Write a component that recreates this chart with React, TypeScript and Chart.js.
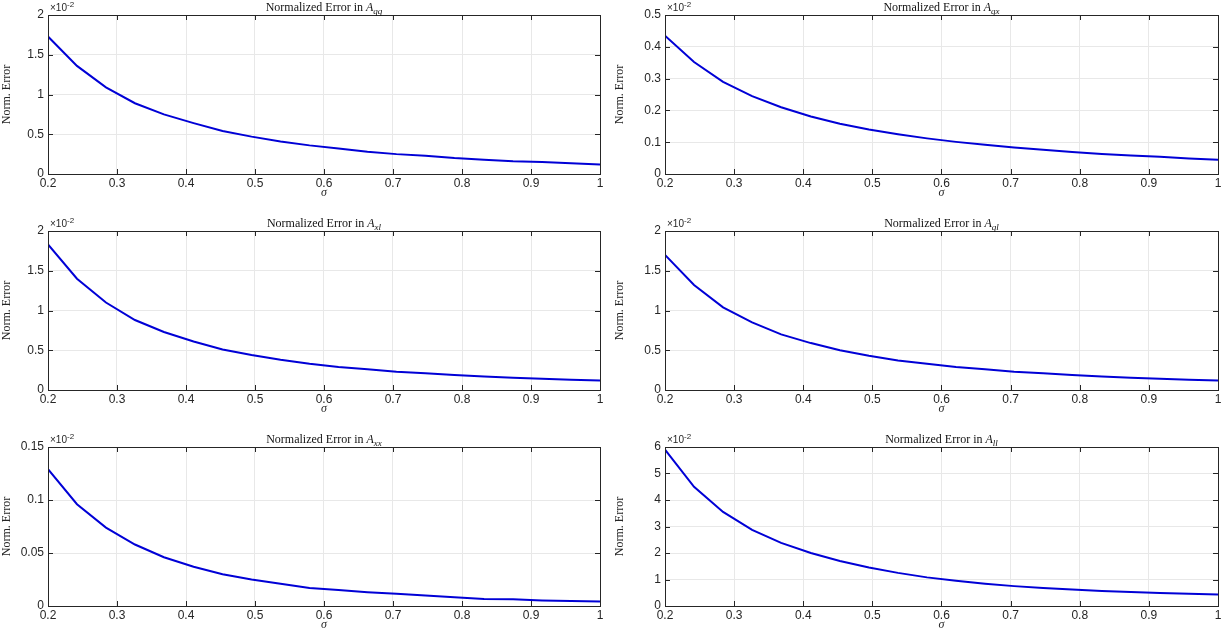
import React, { useEffect, useRef } from "react";
import { Chart, registerables } from "chart.js";
Chart.register(...registerables);

const sigma = [0.2, 0.242, 0.284, 0.326, 0.368, 0.411, 0.453, 0.495, 0.537, 0.579, 0.621, 0.663, 0.705, 0.747, 0.789, 0.832, 0.874, 0.916, 0.958, 1.0];
const errQQ = [1.73, 1.36, 1.09, 0.89, 0.75, 0.64, 0.54, 0.47, 0.41, 0.36, 0.32, 0.28, 0.25, 0.23, 0.2, 0.18, 0.16, 0.15, 0.135, 0.12];
const errQX = [0.435, 0.352, 0.29, 0.245, 0.21, 0.181, 0.158, 0.14, 0.125, 0.112, 0.101, 0.092, 0.083, 0.076, 0.069, 0.063, 0.058, 0.054, 0.049, 0.045];
const errXL = [1.83, 1.4, 1.1, 0.88, 0.73, 0.61, 0.51, 0.44, 0.38, 0.33, 0.29, 0.26, 0.23, 0.21, 0.19, 0.17, 0.155, 0.14, 0.13, 0.12];
const errQL = [1.7, 1.32, 1.04, 0.85, 0.7, 0.59, 0.5, 0.43, 0.37, 0.33, 0.29, 0.26, 0.23, 0.21, 0.19, 0.17, 0.155, 0.14, 0.13, 0.12];
const errXX = [0.129, 0.096, 0.074, 0.058, 0.046, 0.037, 0.03, 0.025, 0.021, 0.017, 0.015, 0.013, 0.0115, 0.0098, 0.0082, 0.0065, 0.0063, 0.0053, 0.0048, 0.0042];
const errLL = [5.9, 4.5, 3.55, 2.87, 2.38, 2.0, 1.7, 1.45, 1.25, 1.08, 0.95, 0.84, 0.75, 0.68, 0.62, 0.57, 0.53, 0.49, 0.46, 0.43];

const panels = [
  { sub: "qq", data: errQQ, yMax: 2, step: 0.5 },
  { sub: "qx", data: errQX, yMax: 0.5, step: 0.1 },
  { sub: "xl", data: errXL, yMax: 2, step: 0.5 },
  { sub: "ql", data: errQL, yMax: 2, step: 0.5 },
  { sub: "xx", data: errXX, yMax: 0.15, step: 0.05 },
  { sub: "ll", data: errLL, yMax: 6, step: 1 },
];

const TXT = "#262626";

const decor = {
  id: "decor",
  afterDraw(chart: any, _a: any, opts: any) {
    const { ctx, chartArea: ca, scales } = chart;
    ctx.save();
    ctx.strokeStyle = TXT;
    ctx.lineWidth = 1;
    ctx.strokeRect(ca.left + 0.5, ca.top + 0.5, ca.right - ca.left, ca.bottom - ca.top);
    ctx.beginPath();
    scales.x.ticks.forEach((t: any) => {
      const p = Math.round(scales.x.getPixelForValue(t.value)) + 0.5;
      ctx.moveTo(p, ca.bottom); ctx.lineTo(p, ca.bottom - 5);
      ctx.moveTo(p, ca.top); ctx.lineTo(p, ca.top + 5);
    });
    scales.y.ticks.forEach((t: any) => {
      const p = Math.round(scales.y.getPixelForValue(t.value)) + 0.5;
      ctx.moveTo(ca.left, p); ctx.lineTo(ca.left + 5, p);
      ctx.moveTo(ca.right, p); ctx.lineTo(ca.right - 5, p);
    });
    ctx.stroke();
    // title
    ctx.fillStyle = "#111";
    ctx.textBaseline = "alphabetic";
    const f1 = "12px 'Liberation Serif'";
    const f2 = "italic 12px 'Liberation Serif'";
    const f3 = "italic 9px 'Liberation Serif'";
    const s1 = "Normalized Error in ";
    ctx.font = f1; const w1 = ctx.measureText(s1).width;
    ctx.font = f2; const w2 = ctx.measureText("A").width;
    ctx.font = f3; const w3 = ctx.measureText(opts.sub).width;
    let x = (ca.left + ca.right) / 2 - (w1 + w2 + w3) / 2;
    const y = ca.top - 4;
    ctx.font = f1; ctx.fillText(s1, x, y); x += w1;
    ctx.font = f2; ctx.fillText("A", x, y); x += w2;
    ctx.font = f3; ctx.fillText(opts.sub, x, y + 3);
    // exponent
    ctx.fillStyle = TXT;
    ctx.font = "10px 'Liberation Sans'";
    const ex = "\u00d710";
    ctx.fillText(ex, ca.left + 2, ca.top - 4);
    const we = ctx.measureText(ex).width;
    ctx.font = "8px 'Liberation Sans'";
    ctx.fillText("-2", ca.left + 2 + we, ca.top - 8);
    ctx.restore();
  },
};

function Panel({ p, col, row }: any) {
  const ref = useRef<HTMLCanvasElement>(null);
  useEffect(() => {
    const padR = col === 0 ? 13 : 8;
    const yW = col === 0 ? 48 : 52;
    const chart = new Chart(ref.current!, {
      type: "line",
      data: {
        labels: sigma,
        datasets: [{ data: sigma.map((s, i) => ({ x: s, y: p.data[i] })), borderColor: "#0000d6", borderWidth: 2, pointRadius: 0, tension: 0 }],
      },
      options: {
        animation: false,
        responsive: false,
        layout: { padding: { top: 15, right: padR, left: 0, bottom: 16 } },
        plugins: { legend: { display: false }, tooltip: { enabled: false }, decor: { sub: p.sub } } as any,
        scales: {
          x: {
            type: "linear", min: 0.2, max: 1,
            ticks: { stepSize: 0.1, color: TXT, font: { family: "Liberation Sans", size: 12 }, padding: 2, maxRotation: 0,
              callback: (v: any) => String(Math.round(v * 10) / 10) },
            grid: { color: "#e8e8e8", drawTicks: false },
            border: { display: false },
            title: { display: true, text: "\u03c3", color: TXT, font: { family: "Liberation Serif", size: 12, style: "italic" }, padding: 0 },
            afterFit: (s: any) => { s.height = 26; },
          },
          y: {
            min: 0, max: p.yMax,
            ticks: { stepSize: p.step, color: TXT, font: { family: "Liberation Sans", size: 12 }, padding: 4,
              callback: (v: any) => String(Math.round(v * 1000) / 1000) },
            grid: { color: "#e8e8e8", drawTicks: false },
            border: { display: false },
            title: { display: true, text: "Norm. Error", color: TXT, font: { family: "Liberation Serif", size: 12 }, padding: { top: 0, bottom: 2 } },
            afterFit: (s: any) => { s.width = yW; },
          },
        },
      },
      plugins: [decor],
    } as any);
    return () => chart.destroy();
  }, []);
  return (
    <canvas ref={ref} width={613} height={216}
      style={{ position: "absolute", left: col * 613, top: row * 216, width: 613, height: 216 }} />
  );
}

export default function App() {
  return (
    <div style={{ position: "absolute", left: 0, top: 0, width: 1226, height: 640, overflow: "hidden", background: "#fff" }}>
      {panels.map((p, i) => <Panel key={i} p={p} col={i % 2} row={Math.floor(i / 2)} />)}
    </div>
  );
}
